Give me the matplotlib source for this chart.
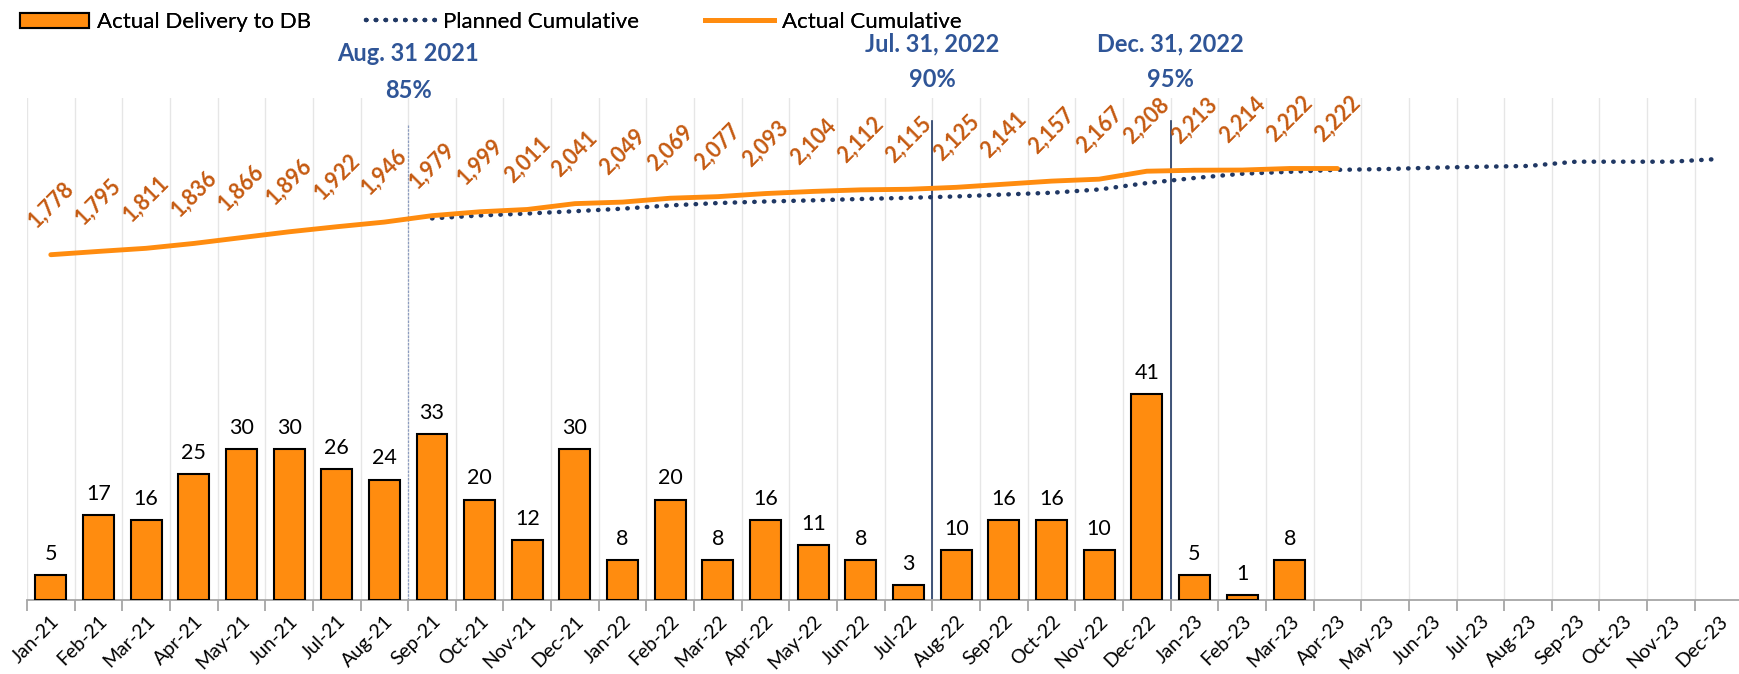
import numpy as np
import matplotlib
matplotlib.use("Agg")
import matplotlib.pyplot as plt
from matplotlib.patches import Patch
from matplotlib.lines import Line2D

plt.rcParams['font.family'] = ['Lato', 'DejaVu Sans']

# Months shown on the category axis
months = ['Jan-21', 'Feb-21', 'Mar-21', 'Apr-21', 'May-21', 'Jun-21', 'Jul-21', 'Aug-21',
          'Sep-21', 'Oct-21', 'Nov-21', 'Dec-21', 'Jan-22', 'Feb-22', 'Mar-22', 'Apr-22',
          'May-22', 'Jun-22', 'Jul-22', 'Aug-22', 'Sep-22', 'Oct-22', 'Nov-22', 'Dec-22',
          'Jan-23', 'Feb-23', 'Mar-23', 'Apr-23', 'May-23', 'Jun-23', 'Jul-23', 'Aug-23',
          'Sep-23', 'Oct-23', 'Nov-23', 'Dec-23']

# Monthly deliveries (Jan-21 .. Mar-23)
delivered = [5, 17, 16, 25, 30, 30, 26, 24, 33, 20, 12, 30, 8, 20, 8, 16, 11, 8, 3, 10,
             16, 16, 10, 41, 5, 1, 8]

# Actual cumulative (Jan-21 .. Apr-23)
actual_cum = [1778, 1795, 1811, 1836, 1866, 1896, 1922, 1946, 1979, 1999, 2011, 2041,
              2049, 2069, 2077, 2093, 2104, 2112, 2115, 2125, 2141, 2157, 2167, 2208,
              2213, 2214, 2222, 2222]

# Planned cumulative (starts Sep-21)
planned_start = 8
planned_cum = [1965, 1980, 1990, 2002, 2015, 2032, 2044, 2052, 2058, 2065, 2071, 2078,
               2088, 2097, 2114, 2147, 2173, 2195, 2205, 2215, 2219, 2226, 2231, 2235,
               2257, 2257, 2257, 2271]

# Milestones: (position between months, date text, percent text)
milestones = [(7.5, 'Aug. 31 2021', '85%'), (18.5, 'Jul. 31, 2022', '90%'),
              (23.5, 'Dec. 31, 2022', '95%')]

orange = '#FF8C0F'
label_orange = '#C55A11'
navy = '#203864'
blue_txt = '#2F5597'

fig = plt.figure(figsize=(17.4, 6.74), dpi=100)
ax = fig.add_axes([0.0155, 0.1098, 0.9859, 0.7448])
ax2 = ax.twinx()

n = len(months)
x = np.arange(n)

# bars
bx = np.arange(len(delivered))
ax.bar(bx, delivered, width=0.65, color=orange, edgecolor='black', linewidth=1.5, zorder=3)
for xi, v in zip(bx, delivered):
    ax.annotate(str(v), (xi, v), xytext=(0, 8), textcoords='offset points',
                ha='center', va='bottom', fontsize=15.5, color='black')

ax.set_xlim(-0.5, n - 0.5)
ax.set_ylim(0, 100)

# category gridlines at boundaries
for b in np.arange(-0.5, n, 1.0):
    ax.axvline(b, color='#E6E6E6', lw=1, zorder=0)

# lines on secondary axis
px = np.arange(planned_start, planned_start + len(planned_cum))
ax2.plot(px, planned_cum, color=navy, lw=3.2, linestyle=(0, (0.1, 2.1)),
         solid_capstyle='round', dash_capstyle='round', zorder=4)
ax2.plot(np.arange(len(actual_cum)), actual_cum, color=orange, lw=3.5, zorder=5,
         solid_capstyle='round')
ax2.set_ylim(0, 2585)
for xi, v in enumerate(actual_cum):
    ax2.annotate(f'{v:,}', (xi, v), xytext=(0, 36), textcoords='offset points',
                 ha='center', va='center', rotation=45, rotation_mode='anchor',
                 fontsize=15.5, fontweight='bold', color=label_orange)

# milestone lines and labels
for i, (pos, date_txt, pct) in enumerate(milestones):
    if i == 0:
        ax.axvline(pos, ymin=0, ymax=0.948, color='#8C9CC0', lw=0.9,
                   linestyle=(0, (2, 1)), zorder=2)
        y1, y2 = 0.921, 0.866
    else:
        ax.axvline(pos, ymin=0, ymax=0.955, color=navy, lw=1.2, zorder=2)
        y1, y2 = 0.935, 0.882
    ax.annotate(date_txt, (pos, y1), xycoords=('data', 'figure fraction'),
                ha='center', va='center', fontsize=17, fontweight='bold', color=blue_txt)
    ax.annotate(pct, (pos, y2), xycoords=('data', 'figure fraction'),
                ha='center', va='center', fontsize=17, fontweight='bold', color=blue_txt)

# axes styling
for a in (ax, ax2):
    for s in ('top', 'right', 'left'):
        a.spines[s].set_visible(False)
    a.set_yticks([])
ax2.spines['bottom'].set_visible(False)
ax.spines['bottom'].set_color('#A6A6A6')
ax.spines['bottom'].set_linewidth(1.3)

ax.set_xticks(np.arange(-0.5, n, 1.0), minor=False)
ax.set_xticklabels([])
ax.tick_params(axis='x', which='major', length=8, color='#A6A6A6', width=1.3)
ax.set_xticks(x, minor=True)
ax.set_xticklabels(months, minor=True, rotation=45, ha='right', rotation_mode='anchor',
                   fontsize=14)
ax.tick_params(axis='x', which='minor', length=0, pad=9)

# legend: three entries spread across the top
handles = [Patch(facecolor=orange, edgecolor='black', linewidth=1.5, label='Actual Delivery to DB'),
           Line2D([], [], color=navy, lw=3.2, linestyle=(0, (0.1, 2.1)), dash_capstyle='round',
                  label='Planned Cumulative'),
           Line2D([], [], color=orange, lw=3.5, label='Actual Cumulative')]
for h, lx in zip(handles, [0.0115, 0.2103, 0.4052]):
    leg = fig.legend(handles=[h], loc='center left', bbox_to_anchor=(lx, 0.967),
                     frameon=False, fontsize=16, handlelength=3.1, handletextpad=0.35,
                     borderpad=0, borderaxespad=0)
    fig.add_artist(leg)

fig.savefig('out.png', dpi=100)
